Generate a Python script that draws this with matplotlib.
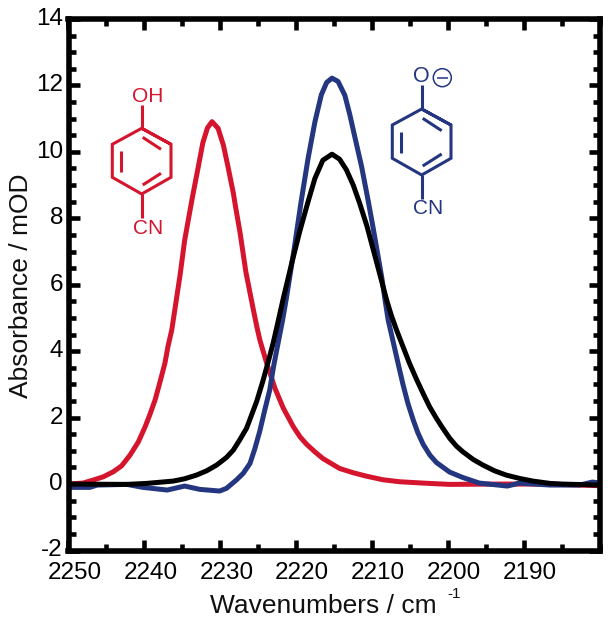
import matplotlib
matplotlib.use("Agg")
import matplotlib.pyplot as plt
from matplotlib.lines import Line2D
from matplotlib.patches import Circle
from matplotlib.ticker import MultipleLocator
from matplotlib.transforms import Affine2D, ScaledTranslation

plt.rcParams['font.family'] = ['Liberation Sans', 'DejaVu Sans']
plt.rcParams['axes.unicode_minus'] = False

RED = '#D5152E'
BLUE = '#24367F'
BLACK = '#000000'

red_w = [2250, 2248.1, 2246.75, 2245.4, 2244.1, 2243.0, 2241.9, 2240.8, 2239.9, 2239.3, 2238.6, 2238.0,
         2237.3, 2236.9, 2236.4, 2236.0, 2235.3, 2234.7, 2233.75, 2232.9, 2232.3, 2231.7, 2231.1, 2230.3,
         2229.6, 2229.0, 2228.3, 2228.0, 2227.4, 2226.65, 2225.7, 2225.2, 2224.8, 2223.9, 2222.8, 2221.7,
         2220.4, 2219.5, 2218.65, 2217.55, 2216.5, 2214.3, 2212.5, 2210.8, 2208.6, 2206.4, 2203.35, 2199.8,
         2193.2, 2186.6, 2180]
red_a = [0, 0.03, 0.12, 0.22, 0.37, 0.55, 0.87, 1.27, 1.73, 2.08, 2.53, 3.03,
         3.64, 4.14, 4.64, 5.24, 6.3, 7.34, 8.55, 9.56, 10.28, 10.72, 10.91, 10.71,
         10.2, 9.56, 8.77, 8.35, 7.56, 6.4, 5.3, 4.74, 4.34, 3.64, 2.88, 2.28,
         1.73, 1.42, 1.2, 0.97, 0.77, 0.47, 0.34, 0.24, 0.13, 0.07, 0.03, -0.01,
         0.0, 0.0, -0.05]

blue_w = [2250, 2247.2, 2246.2, 2242.3, 2240.2, 2237.0, 2234.7, 2232.7, 2230.1, 2229.2, 2227.9, 2227.0,
          2226.1, 2225.45, 2224.8, 2224.15, 2223.5, 2223.0, 2222.4, 2221.8, 2221.3, 2220.3, 2219.4, 2218.45,
          2217.55, 2216.7, 2216.0, 2215.3, 2214.5, 2213.6, 2212.95, 2212.3, 2211.4, 2210.55, 2209.9, 2208.75,
          2208.35, 2207.9, 2207.3, 2206.6, 2205.95, 2205.3, 2204.6, 2204.0, 2203.3, 2202.4, 2201.55, 2199.8,
          2198.1, 2195.9, 2192.2, 2190.6, 2186.6, 2182.7, 2181, 2180]
blue_a = [-0.1, -0.1, -0.03, -0.01, -0.1, -0.18, -0.06, -0.16, -0.21, -0.13, 0.12, 0.32,
          0.62, 1.07, 1.6, 2.23, 2.83, 3.53, 4.24, 4.94, 5.6, 7.05, 8.45, 9.8,
          10.9, 11.72, 12.09, 12.22, 12.12, 11.7, 11.12, 10.46, 9.56, 8.55, 7.74, 6.23,
          5.6, 4.94, 4.34, 3.64, 3.0, 2.43, 1.93, 1.55, 1.2, 0.87, 0.65, 0.36,
          0.2, 0.03, -0.06, 0.03, -0.03, -0.03, 0.06, 0.03]

black_w = [2250, 2242.3, 2239.7, 2236.2, 2234.7, 2233.15, 2231.8, 2230.5, 2229.2, 2228.3, 2227.45, 2226.55,
           2226.1, 2225.2, 2224.4, 2223.7, 2223.05, 2222.4, 2221.7, 2220.6, 2219.55, 2218.45, 2217.55, 2216.5,
           2215.3, 2214.3, 2213.4, 2212.5, 2211.65, 2210.7, 2209.4, 2208.1, 2207.5, 2206.8, 2205.95, 2205.1,
           2204.2, 2203.3, 2202.45, 2201.55, 2200.7, 2199.8, 2198.9, 2198.05, 2196.7, 2195.4, 2193.9, 2192.35,
           2190.6, 2188.85, 2186.6, 2185, 2180]
black_a = [0, -0.01, 0.02, 0.09, 0.16, 0.27, 0.40, 0.57, 0.80, 1.02, 1.33, 1.68,
           1.95, 2.5, 3.1, 3.68, 4.24, 4.89, 5.6, 6.65, 7.6, 8.5, 9.2, 9.75,
           9.93, 9.78, 9.46, 9.0, 8.45, 7.77, 6.66, 5.54, 5.09, 4.64, 4.14, 3.64,
           3.17, 2.73, 2.33, 1.98, 1.68, 1.38, 1.14, 0.97, 0.74, 0.57, 0.40, 0.27,
           0.17, 0.09, 0.02, 0, -0.03]

x_ticks = [2250, 2240, 2230, 2220, 2210, 2200, 2190]
y_ticks = [-2, 0, 2, 4, 6, 8, 10, 12, 14]

W, H = 612, 622
fig = plt.figure(figsize=(W / 100, H / 100), dpi=100, facecolor='white')
L, R, T, B = 68.5, 600, 19, 550.5
ax = fig.add_axes([L / W, 1 - B / H, (R - L) / W, (B - T) / H])

for w, a, c in [(red_w, red_a, RED), (blue_w, blue_a, BLUE), (black_w, black_a, BLACK)]:
    ax.plot(w, a, color=c, lw=3.6, solid_joinstyle='round', solid_capstyle='round')

ax.set_xlim(2250, 2180)
ax.set_ylim(-2, 14)
ax.set_xticks(x_ticks)
ax.set_yticks(y_ticks)
ax.xaxis.set_minor_locator(MultipleLocator(5))
ax.yaxis.set_minor_locator(MultipleLocator(0.5))
ax.tick_params(axis='x', which='major', pad=8.5)
ax.tick_params(axis='y', which='major', pad=4)
ax.tick_params(which='major', direction='in', length=8.2, width=3.3, top=True, right=True,
               labelsize=17.5)
ax.tick_params(which='minor', direction='in', length=5.2, width=3.3, top=True, right=True)
for s in ax.spines.values():
    s.set_linewidth(4)

for lab in ax.get_xticklabels():
    lab.set_transform(lab.get_transform() + ScaledTranslation(6 / 100, 0, fig.dpi_scale_trans))
for lab in ax.get_yticklabels():
    lab.set_transform(lab.get_transform() + ScaledTranslation(0, 2.5 / 100, fig.dpi_scale_trans))

px = Affine2D().scale(1 / W, -1 / H).translate(0, 1) + fig.transFigure

fig.text(323, 613, 'Wavenumbers / cm', transform=px, fontsize=19, ha='center', va='baseline', color='#111111')
fig.text(447, 598, '-1', transform=px, fontsize=11, ha='left', va='baseline', color='#111111')
fig.text(21, 286, 'Absorbance / mOD', transform=px, fontsize=19, ha='center', va='center',
         rotation=90, color='#111111')


def seg(pts, color, lw=2.2):
    xs, ys = zip(*pts)
    fig.add_artist(Line2D(xs, ys, transform=px, color=color, lw=lw,
                          solid_joinstyle='miter', solid_capstyle='butt'))


# 4-cyanophenol structure
seg([(141.7, 128.3), (171, 144.3), (171, 177.3), (141.7, 194), (112.3, 177.3), (112.3, 144.3), (141.7, 128.3), (171, 144.3)], RED)
seg([(141.7, 105), (141.7, 128.3)], RED)
seg([(141.7, 194), (141.7, 218)], RED)
seg([(142.7, 137.3), (161, 149.3)], RED)
seg([(142.7, 185), (161, 173.3)], RED)
seg([(121.3, 150.7), (121.3, 171.7)], RED)
fig.text(148, 96, 'OH', transform=px, fontsize=15, color=RED, ha='center', va='center')
fig.text(148, 229, 'CN', transform=px, fontsize=15, color=RED, ha='center', va='center')

# 4-cyanophenolate structure
seg([(421.7, 109), (451, 125), (451, 158.3), (421.7, 175), (392.3, 158.3), (392.3, 125), (421.7, 109), (451, 125)], BLUE)
seg([(421.7, 85), (421.7, 109)], BLUE)
seg([(421.7, 175), (421.7, 199)], BLUE)
seg([(422.7, 118.3), (441.7, 130.7)], BLUE)
seg([(422.7, 166), (441.7, 154)], BLUE)
seg([(401.3, 131.7), (401.3, 153.3)], BLUE)
fig.text(421.7, 76.5, 'O', transform=px, fontsize=15.5, color=BLUE, ha='center', va='center')
fig.text(428, 209, 'CN', transform=px, fontsize=15, color=BLUE, ha='center', va='center')
fig.add_artist(Circle((442.3, 77.7), 9, transform=px, fill=False, ec=BLUE, lw=1.1))
seg([(437, 77.7), (447.6, 77.7)], BLUE, lw=1.1)

fig.savefig('out.png', dpi=100, facecolor='white')
